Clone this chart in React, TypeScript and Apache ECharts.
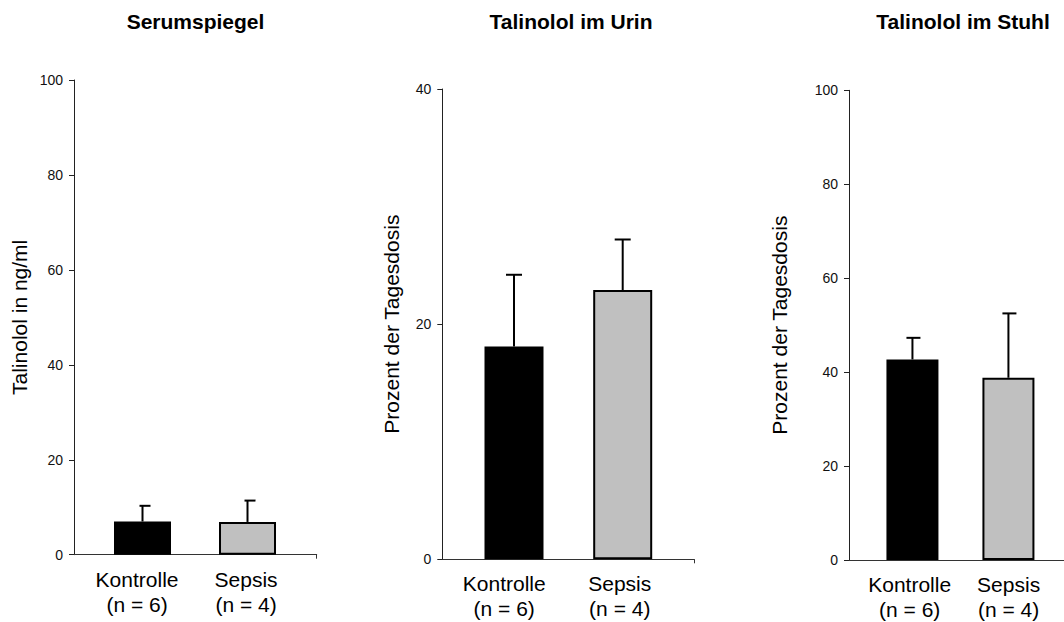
import React, { useEffect, useRef } from "react";
import * as echarts from "echarts";

const categories = ["Kontrolle", "Sepsis"];
const groupSizes = ["(n = 6)", "(n = 4)"];
const titles = ["Serumspiegel", "Talinolol im Urin", "Talinolol im Stuhl"];
const yNames = ["Talinolol in ng/ml", "Prozent der Tagesdosis", "Prozent der Tagesdosis"];
const yMax = [100, 40, 100];
const serumMean = [7.0, 6.9];
const serumSD = [3.3, 4.5];
const urinMean = [18.1, 22.9];
const urinSD = [6.1, 4.3];
const stuhlMean = [42.7, 38.8];
const stuhlSD = [4.6, 13.7];

const means = [serumMean, urinMean, stuhlMean];
const sds = [serumSD, urinSD, stuhlSD];

const FONT = "Liberation Sans, Arial, Helvetica, sans-serif";

// layout per panel (pixels / axis units for label placement)
const panels = [
  { left: 74, top: 80, height: 474.7, width: 242.7, xMin: 0.3476, xMax: 2.659, barW: 57, nameGap: 44, nameSize: 21, capL: 3, capR: 8, endTick: true, labelAt: [0.948, 1.986] },
  { left: 442.3, top: 89, height: 470.3, width: 252, xMin: 0.3404, xMax: 2.6587, barW: 59, nameGap: 40, nameSize: 21, capL: 8, capR: 8, endTick: true, labelAt: [0.91, 1.973] },
  { left: 849, top: 90.3, height: 474.7, width: 215, xMin: 0.339, xMax: 2.579, barW: 52, nameGap: 59, nameSize: 21, capL: 6, capR: 8, endTick: false, labelAt: [0.971, 2.002] },
];

export default function App() {
  const ref = useRef<HTMLDivElement>(null);
  useEffect(() => {
    if (!ref.current) return;
    const chart = echarts.init(ref.current, undefined, { renderer: "svg" });

    const grid = panels.map((p) => ({
      left: p.left,
      top: p.top,
      width: p.width,
      height: p.height,
      containLabel: false,
    }));

    const xAxis = panels.map((p, i) => ({
      type: "value",
      gridIndex: i,
      min: p.xMin,
      max: p.xMax,
      splitLine: { show: false },
      axisLine: { show: true, lineStyle: { color: "#333", width: 1 } },
      axisTick: p.endTick
        ? { show: true, customValues: [p.xMax], length: 4, lineStyle: { color: "#333" } }
        : { show: false },
      axisLabel: {
        customValues: p.labelAt,
        formatter: (v: number) => {
          const k = v < 1.5 ? 0 : 1;
          return categories[k] + "\n" + groupSizes[k];
        },
        fontFamily: FONT,
        fontSize: 21,
        lineHeight: 25,
        color: "#000",
        margin: 12,
      },
    }));

    const yAxis = panels.map((p, i) => ({
      type: "value",
      gridIndex: i,
      min: 0,
      max: yMax[i],
      interval: 20,
      name: yNames[i],
      nameLocation: "middle",
      nameGap: p.nameGap,
      nameTextStyle: { fontFamily: FONT, fontSize: p.nameSize, color: "#000" },
      splitLine: { show: false },
      axisLine: { show: true, lineStyle: { color: "#222", width: 1 } },
      axisTick: { show: true, length: 5, lineStyle: { color: "#222" } },
      axisLabel: { fontFamily: FONT, fontSize: 14, color: "#111", margin: 11 },
    }));

    const series: any[] = [];
    panels.forEach((p, i) => {
      series.push({
        type: "bar",
        xAxisIndex: i,
        yAxisIndex: i,
        barWidth: p.barW,
        data: means[i].map((m, k) => ({
          value: [k + 1, m],
          itemStyle:
            k === 0
              ? { color: "#000", borderColor: "#000", borderWidth: 0 }
              : { color: "#c0c0c0", borderColor: "#000", borderWidth: 2 },
        })),
        z: 2,
      });
      series.push({
        type: "custom",
        xAxisIndex: i,
        yAxisIndex: i,
        z: 3,
        data: means[i].map((m, k) => [k + 1, m, m + sds[i][k]]),
        renderItem: (params: any, api: any) => {
          const x = api.value(0);
          const m = api.value(1);
          const t = api.value(2);
          const p0 = api.coord([x, m]);
          const p1 = api.coord([x, t]);
          const style = { stroke: "#000", lineWidth: 2 };
          return {
            type: "group",
            children: [
              { type: "line", shape: { x1: p0[0], y1: p0[1], x2: p1[0], y2: p1[1] }, style },
              { type: "line", shape: { x1: p1[0] - p.capL, y1: p1[1], x2: p1[0] + p.capR, y2: p1[1] }, style },
            ],
          };
        },
      });
    });

    const title = [190.5, 566, 958].map((cx, i) => ({
      text: titles[i],
      left: cx,
      top: 6,
      textAlign: "center",
      textStyle: { fontFamily: FONT, fontSize: 21, fontWeight: "bold", color: "#000" },
    }));

    chart.setOption({
      animation: false,
      backgroundColor: "#fff",
      title,
      grid,
      xAxis,
      yAxis,
      series,
    } as any);

    return () => chart.dispose();
  }, []);

  return (
    <div
      ref={ref}
      style={{ position: "absolute", left: 0, top: 0, width: 1064, height: 622 }}
    />
  );
}
